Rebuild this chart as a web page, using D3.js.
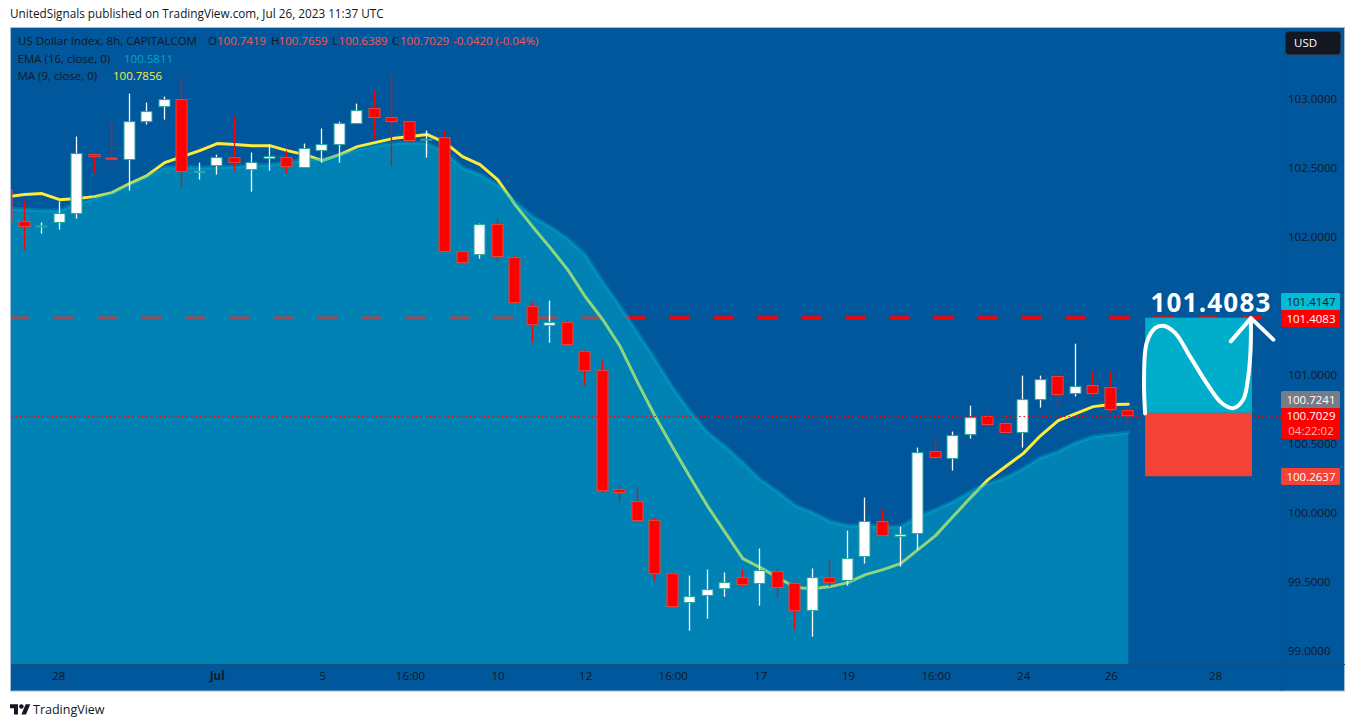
<!DOCTYPE html>
<html><head><meta charset="utf-8">
<script src="https://cdn.jsdelivr.net/npm/d3@7"></script>
<style>
html,body{margin:0;padding:0;background:#fff;overflow:hidden}
svg{display:block}
text{font-family:"Open Sans",sans-serif}
.axis path,.axis line{display:none}
.axis text{font-family:"Open Sans",sans-serif;font-size:11.5px;fill:#131722}
</style></head><body><svg id="c" width="1355" height="727"></svg>
<script>
const opens=[102.344,102.112,102.078,102.105,102.170,102.598,102.573,102.562,102.837,102.946,102.997,102.475,102.518,102.576,102.489,102.569,102.576,102.504,102.627,102.671,102.823,102.932,102.867,102.837,102.707,102.721,101.894,101.872,102.090,101.851,101.495,101.357,101.379,101.168,101.030,100.167,100.080,99.942,99.557,99.347,99.398,99.448,99.528,99.485,99.572,99.485,99.289,99.528,99.507,99.681,99.935,99.826,99.848,100.443,100.392,100.566,100.697,100.646,100.581,100.820,100.987,100.864,100.922,100.907,100.7419];
const highs=[102.360,102.264,102.105,102.257,102.729,102.600,102.830,103.041,102.975,103.019,103.164,102.540,102.598,102.874,102.613,102.671,102.627,102.678,102.787,102.837,102.968,103.062,103.179,102.852,102.772,102.772,101.894,102.097,102.134,101.865,101.531,101.538,101.393,101.183,101.103,100.196,100.189,99.964,99.565,99.543,99.586,99.565,99.586,99.739,99.594,99.499,99.594,99.659,99.869,100.109,100.022,99.898,100.472,100.544,100.588,100.776,100.726,100.697,100.994,100.994,101.001,101.226,101.023,101.023,100.7659];
const lows=[102.100,101.909,102.025,102.054,102.134,102.467,102.533,102.337,102.816,102.852,102.359,102.417,102.453,102.482,102.329,102.482,102.460,102.504,102.540,102.540,102.823,102.707,102.511,102.685,102.576,101.894,101.814,101.843,101.822,101.524,101.234,101.234,101.219,100.922,100.145,100.073,99.942,99.507,99.318,99.144,99.231,99.390,99.463,99.325,99.383,99.151,99.100,99.463,99.470,99.630,99.833,99.608,99.731,100.399,100.305,100.537,100.610,100.573,100.472,100.762,100.769,100.842,100.842,100.726,100.6389];
const closes=[102.112,102.076,102.080,102.170,102.605,102.583,102.565,102.837,102.910,102.997,102.475,102.477,102.576,102.540,102.540,102.583,102.511,102.642,102.671,102.823,102.917,102.867,102.837,102.700,102.710,101.894,101.814,102.090,101.858,101.524,101.364,101.379,101.219,101.030,100.160,100.145,99.942,99.557,99.318,99.390,99.441,99.492,99.478,99.579,99.456,99.289,99.528,99.492,99.666,99.935,99.833,99.840,100.435,100.399,100.559,100.689,100.639,100.581,100.820,100.965,100.856,100.914,100.864,100.747,100.7029];
const maValues=[102.293,102.308,102.315,102.271,102.279,102.293,102.322,102.388,102.446,102.540,102.583,102.627,102.678,102.671,102.663,102.663,102.627,102.598,102.554,102.598,102.656,102.685,102.714,102.729,102.743,102.685,102.583,102.525,102.417,102.235,102.075,101.923,101.763,101.568,101.401,101.205,100.943,100.697,100.472,100.254,100.044,99.855,99.666,99.601,99.528,99.456,99.448,99.463,99.492,99.550,99.586,99.630,99.731,99.833,99.971,100.109,100.239,100.334,100.428,100.559,100.668,100.718,100.769,100.784,100.7856];
const emaValues=[102.206,102.199,102.192,102.192,102.242,102.279,102.322,102.380,102.438,102.504,102.504,102.504,102.504,102.511,102.518,102.525,102.540,102.562,102.562,102.598,102.634,102.663,102.678,102.685,102.678,102.613,102.504,102.453,102.380,102.257,102.148,102.075,101.988,101.872,101.676,101.495,101.306,101.110,100.907,100.733,100.581,100.479,100.363,100.239,100.152,100.051,100.000,99.935,99.906,99.906,99.898,99.898,99.971,100.022,100.080,100.152,100.210,100.254,100.319,100.399,100.443,100.508,100.552,100.566,100.5811];
const priceTicks=[99,99.5,100,100.5,101,102,102.5,103];
const timeTicks=[2.93,11.97,18,23,28,33,38,43,48,53,58,63,68.95];
const timeLabels=["28","Jul","5","16:00","10","12","16:00","17","19","16:00","24","26","28"];
const targetPrice=101.4083, lastPrice=100.7029, topPrice=101.4147, entryPrice=100.7241, stopPrice=100.2637;
const positionBars=[64.96,71.06];
const sketchBars=[64.96,64.9,65.05,65.53,66,66.67,67.52,68.47,69.33,70,70.56,70.85,70.98,71];
const sketchPrices=[100.72,100.964,101.231,101.339,101.356,101.304,101.134,100.94,100.795,100.758,100.82,100.989,101.181,101.411];
const arrowBars=[69.85,71,72.28];
const arrowPrices=[101.243,101.411,101.255];

const svg=d3.select("#c");
const L=11,R=1281,T=28,B=664,FR=1345,FB=691;
const x=d3.scaleLinear().domain([0,72]).range([7,1268.44]);
const y=d3.scaleLinear().domain([99,103]).range([650.4,99.2]);
const bg="#01579B";
svg.append("rect").attr("x",10.5).attr("y",27.5).attr("width",FR-11).attr("height",FB-27.5).attr("fill",bg).attr("stroke","#9fbdd6");
svg.append("defs").append("clipPath").attr("id","pl").append("rect").attr("x",L).attr("y",T).attr("width",R-L).attr("height",B-T);
const p=svg.append("g").attr("clip-path","url(#pl)");
const idx=d3.range(closes.length);

p.append("line").attr("x1",10).attr("x2",R).attr("y1",y(targetPrice)-.8).attr("y2",y(targetPrice)-.8)
 .attr("stroke","#FF0000").attr("stroke-width",3).attr("stroke-dasharray","20,24");
const maLine=d3.line().x(i=>x(i)).y(i=>y(maValues[i]));
p.append("path").attr("d",maLine(idx)).attr("fill","none").attr("stroke","#FFEB3B").attr("stroke-width",3).attr("stroke-linejoin","round").attr("stroke-linecap","round");
const emaArea=d3.area().x(i=>x(i)).y0(B).y1(i=>y(emaValues[i]));
const emaLine=d3.line().x(i=>x(i)).y(i=>y(emaValues[i]));
p.append("path").attr("d",emaArea(idx)).attr("fill","#00BCD4").attr("fill-opacity",.445);
p.append("path").attr("d",emaLine(idx)).attr("fill","none").attr("stroke","#00BCD4").attr("stroke-opacity",.3).attr("stroke-width",4).attr("stroke-linecap","round");

const cg=p.selectAll("g.c").data(idx).join("g");
const up=i=>closes[i]>=opens[i];
cg.append("line").attr("x1",i=>Math.round(x(i))-.5).attr("x2",i=>Math.round(x(i))-.5)
 .attr("y1",i=>y(highs[i])).attr("y2",i=>y(lows[i])).attr("stroke",i=>up(i)?"#FFFFFF":"#FF0000").attr("stroke-width",1.3);
cg.append("rect").attr("x",i=>Math.round(x(i))-6).attr("width",11)
 .attr("y",i=>y(Math.max(opens[i],closes[i])))
 .attr("height",i=>Math.max(1,Math.abs(y(opens[i])-y(closes[i]))))
 .attr("fill",i=>up(i)?"#FFFFFF":"#FF0000").attr("stroke",i=>up(i)?"#26A69A":"#F44336").attr("stroke-width",1);

p.append("line").attr("x1",L).attr("x2",R).attr("y1",Math.round(y(lastPrice))+.5).attr("y2",Math.round(y(lastPrice))+.5)
 .attr("stroke","#FF0000").attr("stroke-width",1).attr("stroke-dasharray","1.5,3");

// position tool
svg.append("rect").attr("x",x(positionBars[0])).attr("width",x(positionBars[1])-x(positionBars[0])).attr("y",y(topPrice)).attr("height",y(entryPrice)-y(topPrice)).attr("fill","#00AECB");
svg.append("rect").attr("x",x(positionBars[0])).attr("width",x(positionBars[1])-x(positionBars[0])).attr("y",y(entryPrice)).attr("height",y(stopPrice)-y(entryPrice)).attr("fill","#F44336");
svg.append("path").attr("d",d3.line().x(d=>x(d[0])).y(d=>y(d[1])).curve(d3.curveCatmullRom)(d3.zip(sketchBars,sketchPrices))).attr("fill","none").attr("stroke","#fff").attr("stroke-width",4).attr("stroke-linecap","round");
svg.append("path").attr("d",d3.line().x(d=>x(d[0])).y(d=>y(d[1]))(d3.zip(arrowBars,arrowPrices))).attr("fill","none").attr("stroke","#fff").attr("stroke-width",4).attr("stroke-linecap","round").attr("stroke-linejoin","round");
svg.append("text").attr("x",1211).attr("y",312).attr("text-anchor","middle").attr("fill","#fff").attr("font-weight",700).attr("font-size",26).attr("letter-spacing",1.2).text(d3.format(".4f")(targetPrice));

// axes
svg.append("line").attr("x1",R+.5).attr("x2",R+.5).attr("y1",58).attr("y2",FB).attr("stroke","#0D4F88");
svg.append("line").attr("x1",L).attr("x2",FR).attr("y1",B+.5).attr("y2",B+.5).attr("stroke","#0D4F88");
svg.append("g").attr("class","axis").attr("transform",`translate(1285,0)`)
 .call(d3.axisRight(y).tickValues(priceTicks).tickSize(0).tickFormat(d3.format(".4f")));
svg.append("g").attr("class","axis").attr("transform",`translate(0,${B+5})`)
 .call(d3.axisBottom(x).tickValues(timeTicks).tickSize(0).tickFormat((d,i)=>timeLabels[i]))
 .selectAll("text").attr("font-weight",(d,i)=>timeLabels[i]==="Jul"?700:400);

function tag(y0,h,fill,lines){
 svg.append("rect").attr("x",1281).attr("y",y0).attr("width",59).attr("height",h).attr("rx",1.5).attr("fill",fill);
 lines.forEach(l=>svg.append("text").attr("x",1311).attr("y",l.y).attr("text-anchor","middle").attr("font-size",11.5).attr("fill",l.c).text(l.t));
}
const f4=d3.format(".4f");
tag(293,17,"#00BCD4",[{y:306,c:"#131722",t:f4(topPrice)}]);
tag(310,17,"#FF0000",[{y:323,c:"#fff",t:f4(targetPrice)}]);
tag(391,17,"#787B86",[{y:404,c:"#fff",t:f4(entryPrice)}]);
tag(408,31,"#FF0000",[{y:420,c:"#fff",t:f4(lastPrice)},{y:435,c:"#FFB3B3",t:"04:22:02"}]);
tag(468,17,"#F44336",[{y:481,c:"#fff",t:f4(stopPrice)}]);
svg.append("rect").attr("x",1285.5).attr("y",31.5).attr("width",55).attr("height",23).attr("rx",3).attr("fill","#131722").attr("stroke","#2A2E39");
svg.append("text").attr("x",1294).attr("y",47).attr("font-size",11.5).attr("fill","#fff").text("USD");

// legend
const dark="#131722", down="#FF5252";
const leg=[[18,41,"US Dollar Index, 8h, CAPITALCOM",dark],[208,41,"O",dark],[217,41,f4(100.7419),down],[271,41,"H",dark],[278.6,41,f4(100.7659),down],[332,41,"L",dark],[338.6,41,f4(100.6389),down],[392,41,"C",dark],[400,41,f4(lastPrice),down],[453,41,"-0.0420 (-0.04%)",down],
[17.5,59,"EMA (16, close, 0)",dark],[124,59,f4(100.5811),"#00A5C5"],[17.5,76,"MA (9, close, 0)",dark],[113,76,f4(100.7856),"#FFEB3B"]];
leg.forEach(l=>svg.append("text").attr("x",l[0]).attr("y",l[1]+4).attr("font-size",11.5).attr("fill",l[3]).text(l[2]));

svg.append("text").attr("x",10).attr("y",18).attr("font-size",11.75).attr("fill","#131722").text("UnitedSignals published on TradingView.com, Jul 26, 2023 11:37 UTC");
const logo=svg.append("g").attr("transform","translate(10,702) scale(.57)").attr("fill","#131722");
logo.append("path").attr("d","M14 22H7V11H0V4h14v18zM28 22h-8l7.5-18h8L28 22z");
logo.append("circle").attr("cx",20).attr("cy",8).attr("r",4);
svg.append("text").attr("x",33).attr("y",714).attr("font-size",12.5).attr("fill","#131722").text("TradingView");
</script></body></html>
